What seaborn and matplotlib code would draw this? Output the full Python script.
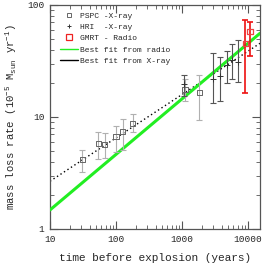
import matplotlib
matplotlib.use("Agg")
import matplotlib.pyplot as plt
import seaborn as sns
import numpy as np
import pandas as pd
from matplotlib.lines import Line2D
from matplotlib.ticker import FixedLocator, FixedFormatter, LogLocator, NullFormatter

# ---- data ----
pspc_x = [31, 54, 67, 100, 126, 179, 1110, 1830]
pspc_y = [4.2, 5.8, 5.7, 6.7, 7.4, 8.8, 17.5, 16.6]
pspc_lo = [3.2, 4.2, 4.3, 4.9, 5.1, 7.4, 14.0, 9.4]
pspc_hi = [5.1, 7.3, 7.2, 8.3, 9.5, 10.6, 22.0, 23.7]

hri_x = [1080, 2900, 3800, 4800, 5700, 7100]
hri_y = [19.8, 22.0, 23.0, 29.0, 32.0, 31.0]
hri_lo = [15.5, 13.2, 14.0, 20.0, 22.0, 20.5]
hri_hi = [23.5, 37.5, 34.5, 38.8, 44.9, 48.7]

gmrt_x = [9100, 10700]
gmrt_y = [45.5, 57.8]
gmrt_lo = [16.4, 35.3]
gmrt_hi = [73.5, 70.9]

fit_x = [10, 15200]
fit_radio_y = [1.48, 55.9]
fit_xray_y = [2.67, 45.5]

x_ticks = [10, 100, 1000, 10000]
x_ticklabels = ["10", "100", "1000", "10000"]
y_ticks = [1, 10, 100]
y_ticklabels = ["1", "10", "100"]

legend_labels = ["PSPC -X-ray", "HRI  -X-ray", "GMRT - Radio",
                 "Best fit from radio", "Best fit from X-ray"]

sns.set_style("ticks")
plt.rcParams['font.family'] = ['Liberation Mono', 'DejaVu Sans']
plt.rcParams['mathtext.fontset'] = 'custom'
plt.rcParams['mathtext.rm'] = 'Liberation Mono'
plt.rcParams['mathtext.it'] = 'Liberation Mono'

fig = plt.figure(figsize=(2.64, 2.67), dpi=100)
ax = fig.add_axes([50/264, 1-229/267, 210/264, 224/267])

fits = pd.DataFrame({"x": fit_x, "radio": fit_radio_y, "xray": fit_xray_y})
sns.lineplot(data=fits, x="x", y="xray", ax=ax, color="black", lw=1.0,
             linestyle=(0, (1, 2)), zorder=2)
sns.lineplot(data=fits, x="x", y="radio", ax=ax, color="#22ee22", lw=2.2, zorder=3)

def eb(xs, ys, lo, hi, color, lw):
    ys = np.array(ys); lo = np.array(lo); hi = np.array(hi)
    ax.errorbar(xs, ys, yerr=[ys - lo, hi - ys], fmt="none", ecolor=color,
                elinewidth=lw, capsize=2.5, capthick=lw, zorder=4)

eb(pspc_x, pspc_y, pspc_lo, pspc_hi, "#b0b0b0", 0.8)
eb(hri_x, hri_y, hri_lo, hri_hi, "#555555", 0.8)
eb(gmrt_x, gmrt_y, gmrt_lo, gmrt_hi, "#ee1111", 1.2)

sns.scatterplot(x=pspc_x, y=pspc_y, ax=ax, marker="s", s=14, facecolor="none",
                edgecolor="#666666", linewidth=0.7, zorder=5)
sns.scatterplot(x=hri_x, y=hri_y, ax=ax, marker="+", s=14, color="#333333",
                linewidth=0.7, zorder=5)
sns.scatterplot(x=gmrt_x, y=gmrt_y, ax=ax, marker="s", s=14, facecolor="none",
                edgecolor="#ee4444", linewidth=0.9, zorder=5)

ax.set_xscale("log")
ax.set_yscale("log")
ax.set_xlim(10, 15200)
ax.set_ylim(1, 100)

ax.xaxis.set_major_locator(FixedLocator(x_ticks))
ax.xaxis.set_major_formatter(FixedFormatter(x_ticklabels))
ax.yaxis.set_major_locator(FixedLocator(y_ticks))
ax.yaxis.set_major_formatter(FixedFormatter(y_ticklabels))
ax.xaxis.set_minor_locator(LogLocator(base=10, subs=np.arange(2, 10)))
ax.yaxis.set_minor_locator(LogLocator(base=10, subs=np.arange(2, 10)))
ax.xaxis.set_minor_formatter(NullFormatter())
ax.yaxis.set_minor_formatter(NullFormatter())
ax.tick_params(which="both", direction="in", top=True, right=True, color="#555555")
ax.tick_params(which="major", length=6, width=0.8, labelsize=6.8, pad=4)
ax.tick_params(which="minor", length=3, width=0.6)
for s in ax.spines.values():
    s.set_color("#555555")
    s.set_linewidth(0.9)

ax.set_xlabel("time before explosion (years)", fontsize=8, labelpad=7)
ax.set_ylabel(r"mass loss rate (10$^{-5}$ M$_{\rm sun}$ yr$^{-1}$)", fontsize=7.7, labelpad=6)

handles = [
    Line2D([], [], marker="s", ls="none", mfc="none", mec="#666666", ms=3.5, mew=0.7),
    Line2D([], [], marker="+", ls="none", color="#333333", ms=3.5, mew=0.7),
    Line2D([], [], marker="s", ls="none", mfc="none", mec="#ee2222", ms=4.5, mew=0.9),
    Line2D([], [], color="#22ee22", lw=1.0),
    Line2D([], [], color="black", lw=1.0),
]
leg = ax.legend(handles, legend_labels, loc="upper left", bbox_to_anchor=(0.025, 0.99),
                frameon=False, fontsize=5.8, handlelength=2.2, handletextpad=0.3,
                labelspacing=0.45, borderaxespad=0.2)

fig.savefig("out.png", dpi=100)
